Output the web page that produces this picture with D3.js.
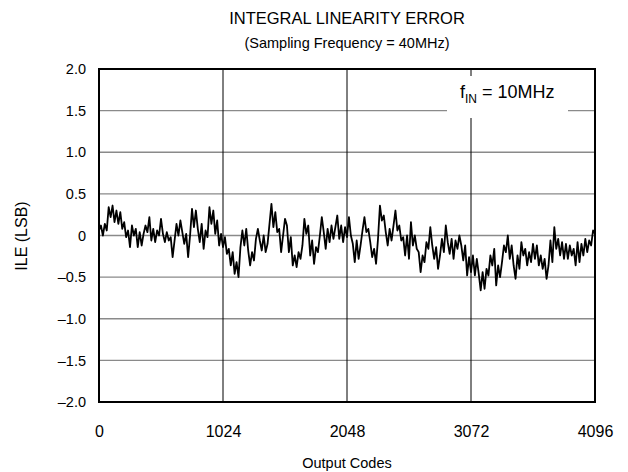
<!DOCTYPE html>
<html><head><meta charset="utf-8">
<script src="https://cdn.jsdelivr.net/npm/d3@7"></script>
<style>body{margin:0;background:#fff}svg{display:block;font-family:"Liberation Sans",Arial,sans-serif}</style>
</head><body><svg id="c" width="628" height="472"></svg>
<script>
const title1 = "INTEGRAL LINEARITY ERROR";
const title2 = "(Sampling Frequency = 40MHz)";
const xLabel = "Output Codes";
const yLabel = "ILE (LSB)";
const xTicks = [0, 1024, 2048, 3072, 4096];
const yTicks = [2.0, 1.5, 1.0, 0.5, 0, -0.5, -1.0, -1.5, -2.0];
const yTickLabels = ["2.0", "1.5", "1.0", "0.5", "0", "–0.5", "–1.0", "–1.5", "–2.0"];
const codeStep = 16;
const ileValues = [
0.06,0.12,0.0,0.14,0.06,0.34,0.22,0.36,0.16,0.30,0.14,0.28,0.08,0.16,-0.02,0.06,
-0.14,0.12,0.0,0.08,-0.14,0.04,-0.12,0.02,0.12,0.04,0.22,-0.06,0.08,-0.08,0.06,0.0,
0.2,0.02,-0.08,0.04,-0.06,-0.02,-0.26,-0.06,0.14,0.0,0.18,0.04,-0.1,0.02,-0.26,0.0,
0.32,0.1,0.3,0.08,-0.08,0.14,-0.16,0.06,-0.02,0.34,0.14,0.3,0.02,0.18,-0.12,0.02,
-0.14,-0.02,-0.22,-0.16,-0.36,-0.2,-0.46,-0.32,-0.5,-0.14,0.06,-0.12,0.08,-0.18,-0.36,-0.2,
-0.3,-0.04,0.08,-0.06,-0.18,0.0,-0.2,-0.1,0.14,0.38,0.1,0.28,0.04,0.08,-0.2,0.0,
0.2,0.12,-0.2,-0.02,-0.36,-0.24,-0.38,-0.2,-0.28,-0.12,0.2,0.02,0.12,-0.24,-0.06,-0.34,
-0.14,-0.2,0.0,0.22,0.04,-0.16,0.08,-0.08,0.12,-0.04,0.1,0.24,-0.04,0.12,-0.08,0.1,
-0.02,0.22,0.0,-0.1,-0.32,-0.06,-0.28,-0.12,0.06,0.22,0.04,0.08,-0.08,-0.26,-0.16,-0.34,
-0.04,0.36,0.18,0.24,0.04,-0.12,0.08,-0.06,0.12,0.3,0.06,0.12,-0.06,-0.02,-0.24,0.0,
-0.28,0.16,-0.12,0.0,-0.16,-0.2,-0.44,-0.24,-0.32,-0.08,-0.16,0.1,-0.12,-0.28,-0.14,-0.4,
-0.24,-0.04,-0.2,0.12,-0.08,-0.22,-0.04,-0.28,-0.06,-0.16,0.0,-0.12,-0.3,-0.12,-0.48,-0.26,
-0.44,-0.24,-0.48,-0.28,-0.46,-0.66,-0.44,-0.64,-0.4,-0.48,-0.24,-0.36,-0.16,-0.6,-0.36,-0.5,
-0.32,-0.12,-0.2,0.0,-0.28,-0.12,-0.36,-0.52,-0.24,-0.4,-0.08,-0.24,-0.16,-0.36,-0.2,-0.32,
-0.1,-0.28,-0.12,-0.36,-0.24,-0.4,-0.28,-0.52,-0.36,-0.06,-0.32,0.1,-0.16,-0.04,-0.24,-0.08,
-0.28,-0.1,-0.28,-0.12,-0.24,-0.16,-0.36,-0.08,-0.32,-0.1,-0.24,-0.04,-0.2,-0.06,-0.12,0.06,
0.02
];
const data = ileValues.map((v, i) => ({code: i * codeStep, v}));

const FONT = "Liberation Sans, Arial, sans-serif";
const svg = d3.select("#c");
const m = {l: 99, r: 595, t: 69, b: 402};
const x = d3.scaleLinear().domain([0, 4096]).range([m.l, m.r]);
const y = d3.scaleLinear().domain([-2, 2]).range([m.b, m.t]);

svg.append("g").selectAll("line").data(yTicks.filter(d => d > -2 && d < 2)).join("line")
  .attr("x1", m.l).attr("x2", m.r).attr("y1", d => y(d)).attr("y2", d => y(d))
  .attr("stroke", "#8a8a8a").attr("stroke-width", 1.3);
svg.append("g").selectAll("line").data(xTicks.filter(d => d > 0 && d < 4096)).join("line")
  .attr("x1", d => x(d)).attr("x2", d => x(d)).attr("y1", m.t).attr("y2", m.b)
  .attr("stroke", "#000").attr("stroke-width", 1);

svg.append("rect").attr("x", 447).attr("y", 76).attr("width", 121).attr("height", 42).attr("fill", "#fff");
const lt = svg.append("text").attr("x", 460).attr("y", 98).attr("font-size", 18).attr("fill", "#000");
lt.append("tspan").text("f");
lt.append("tspan").attr("font-size", 12).attr("dy", 5).text("IN");
lt.append("tspan").attr("dy", -5).text(" = 10MHz");

svg.append("path").datum(data)
  .attr("fill", "none").attr("stroke", "#000").attr("stroke-width", 1.8).attr("stroke-linejoin", "round")
  .attr("d", d3.line().x(d => x(d.code)).y(d => y(d.v)));

svg.append("rect").attr("x", m.l).attr("y", m.t).attr("width", m.r - m.l).attr("height", m.b - m.t)
  .attr("fill", "none").attr("stroke", "#000").attr("stroke-width", 2);

const yAxis = d3.axisLeft(y).tickValues(yTicks).tickSize(0).tickPadding(13)
  .tickFormat((d, i) => yTickLabels[i]);
const gy = svg.append("g").attr("transform", `translate(${m.l},0)`).call(yAxis);
gy.select(".domain").remove();
gy.selectAll("text").attr("font-size", 14.5).attr("font-family", FONT).attr("fill", "#000");

const xAxis = d3.axisBottom(x).tickValues(xTicks).tickSize(0).tickPadding(24).tickFormat(d3.format("d"));
const gx = svg.append("g").attr("transform", `translate(0,${m.b})`).call(xAxis);
gx.select(".domain").remove();
gx.selectAll("text").attr("font-size", 16).attr("font-family", FONT).attr("fill", "#000");

svg.append("text").attr("x", 347).attr("y", 24).attr("text-anchor", "middle").attr("font-size", 16.5).text(title1);
svg.append("text").attr("x", 347).attr("y", 48).attr("text-anchor", "middle").attr("font-size", 14.5).text(title2);
svg.append("text").attr("x", 347).attr("y", 468).attr("text-anchor", "middle").attr("font-size", 14.5).text(xLabel);
svg.append("text").attr("transform", `translate(27,236) rotate(-90)`).attr("text-anchor", "middle").attr("font-size", 16).text(yLabel);
</script></body></html>
